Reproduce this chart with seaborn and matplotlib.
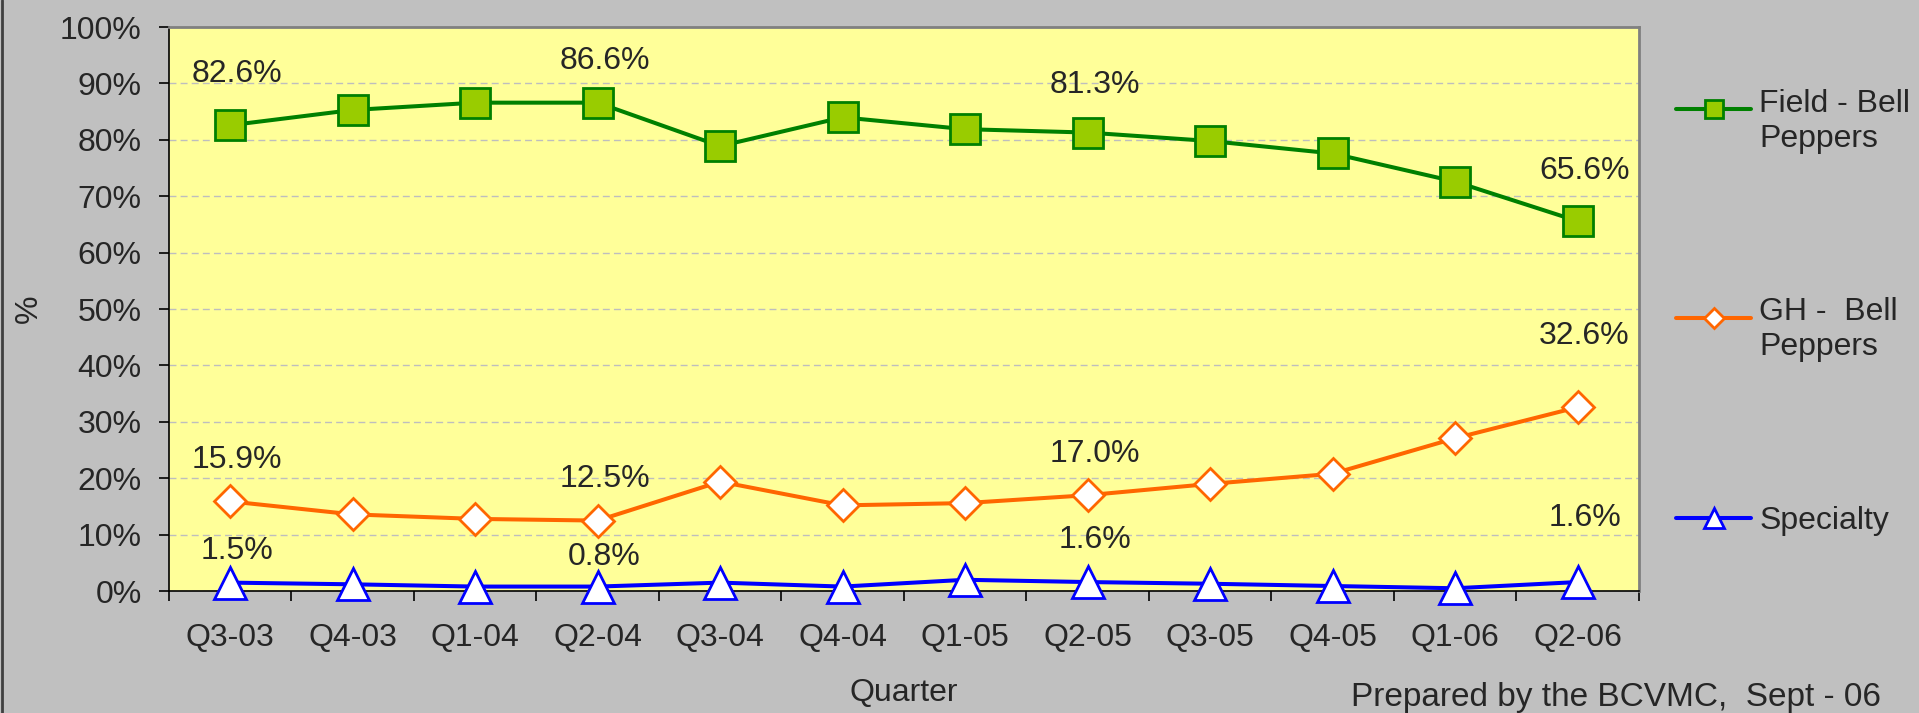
import matplotlib
matplotlib.use("Agg")
import matplotlib.pyplot as plt
from matplotlib.lines import Line2D
from matplotlib.ticker import FixedLocator, PercentFormatter
import seaborn as sns
import pandas as pd

# DATA #
quarters = ['Q3-03', 'Q4-03', 'Q1-04', 'Q2-04', 'Q3-04', 'Q4-04',
            'Q1-05', 'Q2-05', 'Q3-05', 'Q4-05', 'Q1-06', 'Q2-06']
field_bell = [82.6, 85.3, 86.6, 86.6, 78.9, 84.0, 81.9, 81.3, 79.8, 77.6, 72.6, 65.6]
gh_bell = [15.9, 13.6, 12.8, 12.5, 19.4, 15.2, 15.6, 17.0, 19.0, 20.8, 27.1, 32.6]
specialty = [1.5, 1.2, 0.8, 0.8, 1.5, 0.8, 2.0, 1.6, 1.3, 0.9, 0.5, 1.6]
labelled = [0, 3, 7, 11]   # quarters that carry a value label

series_names = ['Field - Bell\nPeppers', 'GH -  Bell\nPeppers', 'Specialty']

# PLOT #
sns.set_style('white')
plt.rcParams['font.family'] = ['Liberation Sans', 'DejaVu Sans']
FS = 23

fig = plt.figure(figsize=(19.19, 7.13), dpi=100)
fig.patch.set_facecolor('#C0C0C0')
ax = fig.add_axes([0.088, 0.171, 0.766, 0.791])
ax.set_facecolor('#FFFF99')

styles = [
    dict(color='#008000', marker='s', markersize=21, markerfacecolor='#99CC00',
         markeredgecolor='#008000', markeredgewidth=2),
    dict(color='#FF6600', marker='D', markersize=16, markerfacecolor='white',
         markeredgecolor='#FF6600', markeredgewidth=2),
    dict(color='#0000FF', marker='^', markersize=23, markerfacecolor='white',
         markeredgecolor='#0000FF', markeredgewidth=2),
]
# how far (points) each value label sits above its marker, Excel placed them unevenly
label_offsets = [[37, 30, 34, 36], [30, 30, 30, 51], [23, 21, 30, 46]]

for name, vals, st, offs in zip(series_names, [field_bell, gh_bell, specialty], styles, label_offsets):
    df = pd.DataFrame({'Quarter': quarters, 'Share': vals})
    sns.lineplot(data=df, x='Quarter', y='Share', sort=False, ax=ax, linewidth=2.9,
                 label=name, zorder=3, clip_on=False, **st)
    for i, off in zip(labelled, offs):
        ax.annotate("{:.1f}%".format(vals[i]), (i, vals[i]), xytext=(5, off),
                    textcoords='offset points', ha='center', va='center', fontsize=FS)

ax.set_ylim(0, 100)
ax.set_xlim(-0.5, len(quarters) - 0.5)
ax.yaxis.set_major_locator(FixedLocator(range(0, 101, 10)))
ax.yaxis.set_major_formatter(PercentFormatter(decimals=0))
ax.grid(axis='y', color='#BEBEBE', linestyle=(0, (5, 3)), linewidth=1)
ax.set_axisbelow(True)

# category labels between tick marks (Excel style)
ax.set_xticks([i - 0.5 for i in range(len(quarters) + 1)])
ax.set_xticklabels([])
ax.set_xticks(range(len(quarters)), minor=True)
ax.set_xticklabels(quarters, minor=True)
ax.tick_params(axis='x', which='major', direction='out', length=7.5, width=1.2, color='black')
ax.tick_params(axis='x', which='minor', length=0, pad=23, labelsize=FS)
ax.tick_params(axis='y', direction='out', length=7.5, width=1.2, color='black', pad=12, labelsize=FS)
ax.tick_params(bottom=True, left=True, which='both')

for side in ['left', 'bottom']:
    ax.spines[side].set_color('black')
    ax.spines[side].set_linewidth(1.2)
for side in ['top', 'right']:
    ax.spines[side].set_color('#808080')
    ax.spines[side].set_linewidth(2)

ax.set_xlabel('Quarter', fontsize=FS, va='center')
ax.xaxis.set_label_coords(0.5, -0.181)
ax.set_ylabel('%', fontsize=FS, va='center')
ax.yaxis.set_label_coords(-0.095, 0.5)

leg = ax.legend(loc='upper left', bbox_to_anchor=(0.8734, 0.875), bbox_transform=fig.transFigure,
                frameon=False, fontsize=FS, borderaxespad=0, borderpad=0,
                handlelength=2.35, labelspacing=4.5, handletextpad=0.25, markerscale=0.65)
# Excel lines the key up with the first text line, not the middle of the label
for h, name in zip(leg.legend_handles, series_names):
    if '\n' in name:
        h.set_ydata([y + 9 for y in h.get_ydata()])

fig.text(0.980, 0.022, 'Prepared by the BCVMC,  Sept - 06', ha='right', va='center', fontsize=24)
fig.add_artist(Line2D([0.001, 0.001], [0, 1], color='#404040', linewidth=2))

fig.savefig('out.png', dpi=100, facecolor=fig.get_facecolor())
